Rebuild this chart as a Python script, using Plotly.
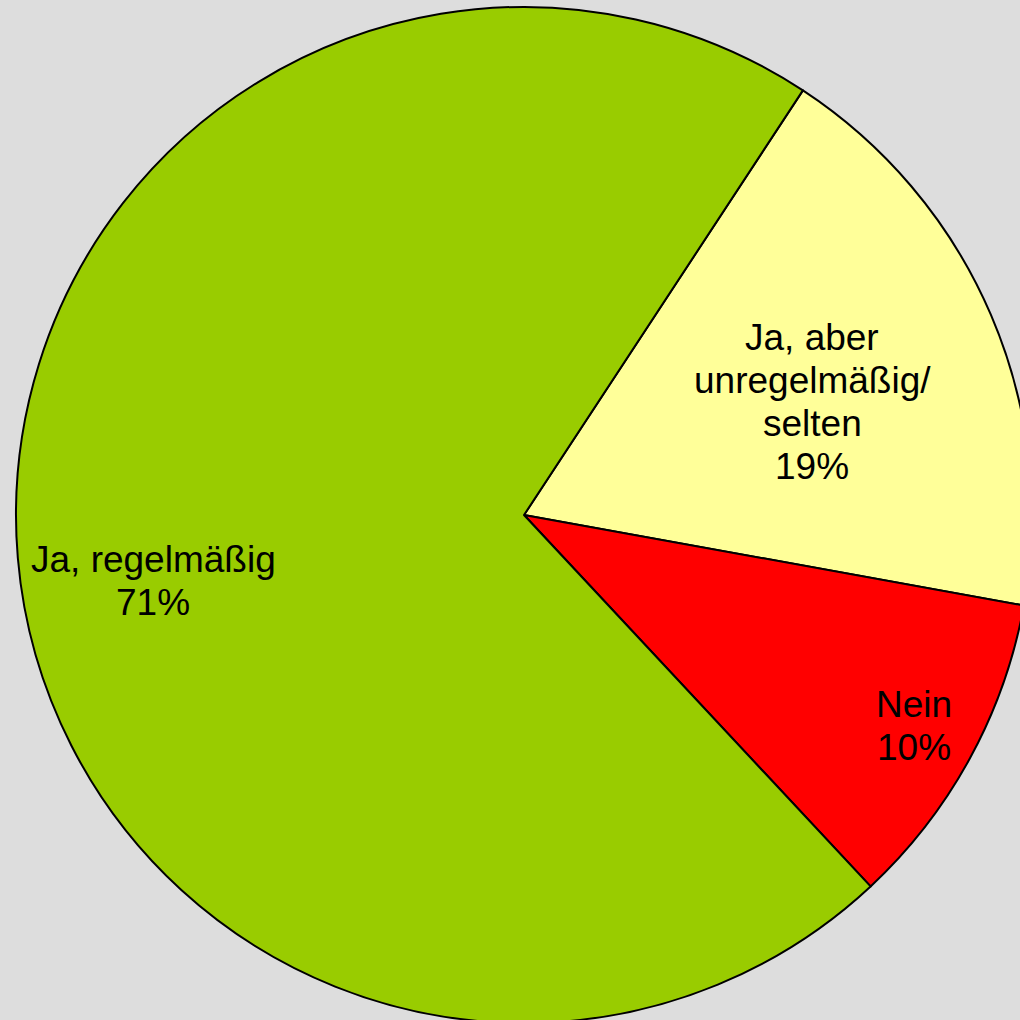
import plotly.graph_objects as go

labels = ["Ja, aber unregelmäßig/ selten", "Nein", "Ja, regelmäßig"]
values = [18.6, 10.2, 71.2]
colors = ["#FFFF99", "#FF0000", "#99CC00"]
label_lines = [["Ja, aber", "unregelmäßig/", "selten"], ["Nein"], ["Ja, regelmäßig"]]
# label layout: (x center px, first line center px, line step px)
label_pos = [(812, 337, 43.3), (914, 704, 43), (153, 559, 43)]

W = H = 1040
L, T, D = 16, 7, 1016

fig = go.Figure(go.Pie(
    labels=labels,
    values=values,
    sort=False,
    direction="clockwise",
    rotation=33.3,
    marker=dict(colors=colors, line=dict(color="black", width=2)),
    textinfo="none",
    hoverinfo="label+percent",
    showlegend=False,
))

total = sum(values)
for lines, v, (px, py, step) in zip(label_lines, values, label_pos):
    all_lines = lines + [f"{round(v / total * 100)}%"]
    for i, txt in enumerate(all_lines):
        y = py + i * step
        fig.add_annotation(
            text=txt, xref="paper", yref="paper",
            x=(px - L) / D, y=1 - (y - T) / D,
            xanchor="center", yanchor="middle", showarrow=False,
            font=dict(family="Liberation Sans, Arial, sans-serif", size=37, color="black"),
        )

fig.update_layout(
    width=W, height=H,
    margin=dict(l=L, t=T, r=W - L - D, b=H - T - D),
    paper_bgcolor="#DDDDDD",
    plot_bgcolor="#DDDDDD",
)

fig.write_html(
    "out.html",
    config={"displayModeBar": False},
    post_script="document.body.style.margin='0';document.body.style.overflow='hidden';document.documentElement.style.overflow='hidden';",
)
